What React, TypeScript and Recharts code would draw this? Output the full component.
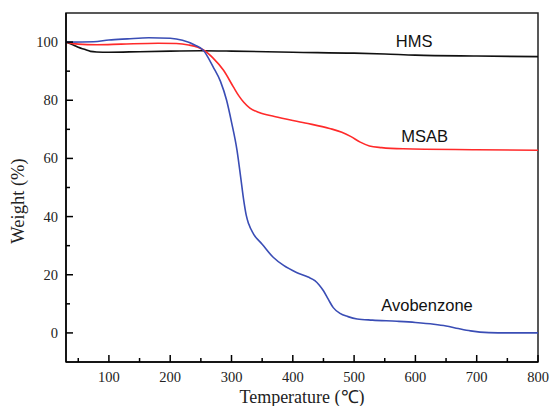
import { LineChart, Line, XAxis, YAxis, ReferenceArea, ReferenceDot } from "recharts";

const hmsTemp = [30, 42, 50, 60, 70, 80, 100, 150, 200, 250, 300, 400, 500, 550, 600, 700, 800];
const hmsWeight = [100, 99, 98.2, 97.5, 96.8, 96.6, 96.5, 96.7, 96.9, 97, 96.9, 96.5, 96.2, 95.9, 95.5, 95.2, 95];

const msabTemp = [30, 50, 80, 120, 180, 210, 230, 245, 255, 270, 287, 303, 312, 320, 330, 345, 370, 420, 460, 480, 495, 510, 525, 545, 580, 700, 800];
const msabWeight = [100, 99.3, 99.1, 99.3, 99.6, 99.5, 99, 98.2, 97.2, 94.5, 90.3, 84.6, 81.5, 79.3, 77.3, 75.8, 74.4, 72.2, 70.3, 69, 67.5, 65.6, 64.3, 63.7, 63.3, 63, 62.8];

const avoTemp = [30, 75, 100, 130, 165, 200, 220, 240, 254, 270, 282, 292, 300, 309, 315, 320, 324, 328, 336, 350, 368, 385, 406, 425, 436, 443, 450, 458, 466, 477, 490, 505, 530, 570, 600, 630, 650, 670, 690, 720, 750, 800];
const avoWeight = [100, 100.1, 100.7, 101.1, 101.5, 101.3, 100.6, 99, 97.2, 91.5, 86.5, 80, 72.5, 62.8, 53.5, 45.5, 40.5, 37.5, 34, 30.5, 26, 23.2, 20.8, 19.2, 18, 16.5, 14.5, 11.5, 8.7, 6.7, 5.6, 4.8, 4.4, 4, 3.6, 3, 2.4, 1.5, 0.7, 0.1, 0, 0];

const xTicks = [50, 100, 150, 200, 250, 300, 350, 400, 450, 500, 550, 600, 650, 700, 750, 800];
const yTicks = [0, 10, 20, 30, 40, 50, 60, 70, 80, 90, 100];

const toRows = (ts: number[], ws: number[]) => ts.map((t, i) => ({ t, w: ws[i] }));

const SERIF = "'Liberation Serif', 'Times New Roman', serif";
const SANS = "'Liberation Sans', Arial, sans-serif";

const XTick = (props: any) => {
  const { x, y, payload } = props;
  const major = payload.value % 100 === 0;
  return (
    <g>
      <line x1={x} y1={y} x2={x} y2={y - (major ? 7 : 4)} stroke="#000" strokeWidth={1.5} />
      {major && (
        <text x={x} y={y + 20} textAnchor="middle" fontSize={14.5} fontFamily={SERIF} fill="#222">
          {payload.value}
        </text>
      )}
    </g>
  );
};

const YTick = (props: any) => {
  const { x, y, payload } = props;
  const major = payload.value % 20 === 0;
  return (
    <g>
      <line x1={x} y1={y} x2={x + (major ? 7 : 4)} y2={y} stroke="#000" strokeWidth={1.5} />
      {major && (
        <text x={x - 8} y={y + 5} textAnchor="end" fontSize={14.5} fontFamily={SERIF} fill="#222">
          {payload.value}
        </text>
      )}
    </g>
  );
};

const annot = (value: string) => ({ value, position: "center" as const, fill: "#111", fontSize: 16.5, fontFamily: SANS });

export default function App() {
  return (
    <div>
      <style>{`body{margin:0}`}</style>
      <LineChart width={550} height={406} margin={{ top: 13, right: 12, bottom: 0, left: 0 }}>
        <XAxis
          type="number"
          dataKey="t"
          domain={[30, 800]}
          ticks={xTicks}
          allowDataOverflow
          height={44}
          tickSize={0}
          tickMargin={0}
          tickLine={false}
          axisLine={{ stroke: "#000", strokeWidth: 1.5 }}
          tick={<XTick />}
          interval={0}
          label={{
            content: (p: any) => (
              <text
                x={p.viewBox.x + p.viewBox.width / 2}
                y={403}
                textAnchor="middle"
                fontSize={18}
                fontFamily={SERIF}
                fill="#222"
              >
                Temperature (℃)
              </text>
            ),
          }}
        />
        <YAxis
          type="number"
          domain={[-10, 110]}
          ticks={yTicks}
          allowDataOverflow
          width={66}
          tickSize={0}
          tickMargin={0}
          tickLine={false}
          axisLine={{ stroke: "#000", strokeWidth: 1.5 }}
          tick={<YTick />}
          interval={0}
          label={{
            content: (p: any) => {
              const cx = 18;
              const cy = 201;
              return (
                <text
                  x={cx}
                  y={cy}
                  transform={`rotate(-90 ${cx} ${cy})`}
                  textAnchor="middle"
                  dominantBaseline="central"
                  fontSize={18.5}
                  fontFamily={SERIF}
                  fill="#222"
                >
                  Weight (%)
                </text>
              );
            },
          }}
        />
        <ReferenceArea x1={30} x2={800} y1={-10} y2={110} fill="none" stroke="#222" strokeWidth={1.5} strokeOpacity={1} fillOpacity={0} />
        <Line data={toRows(hmsTemp, hmsWeight)} dataKey="w" type="monotone" stroke="#111" strokeWidth={1.6} dot={false} isAnimationActive={false} />
        <Line data={toRows(msabTemp, msabWeight)} dataKey="w" type="monotone" stroke="#ff2a2a" strokeWidth={1.6} dot={false} isAnimationActive={false} />
        <Line data={toRows(avoTemp, avoWeight)} dataKey="w" type="monotone" stroke="#3a4db5" strokeWidth={1.6} dot={false} isAnimationActive={false} />
        <ReferenceDot x={598} y={100.45} r={0} stroke="none" fill="none" label={annot("HMS")} />
        <ReferenceDot x={615} y={67.6} r={0} stroke="none" fill="none" label={annot("MSAB")} />
        <ReferenceDot x={619} y={9.55} r={0} stroke="none" fill="none" label={annot("Avobenzone")} />
      </LineChart>
    </div>
  );
}
